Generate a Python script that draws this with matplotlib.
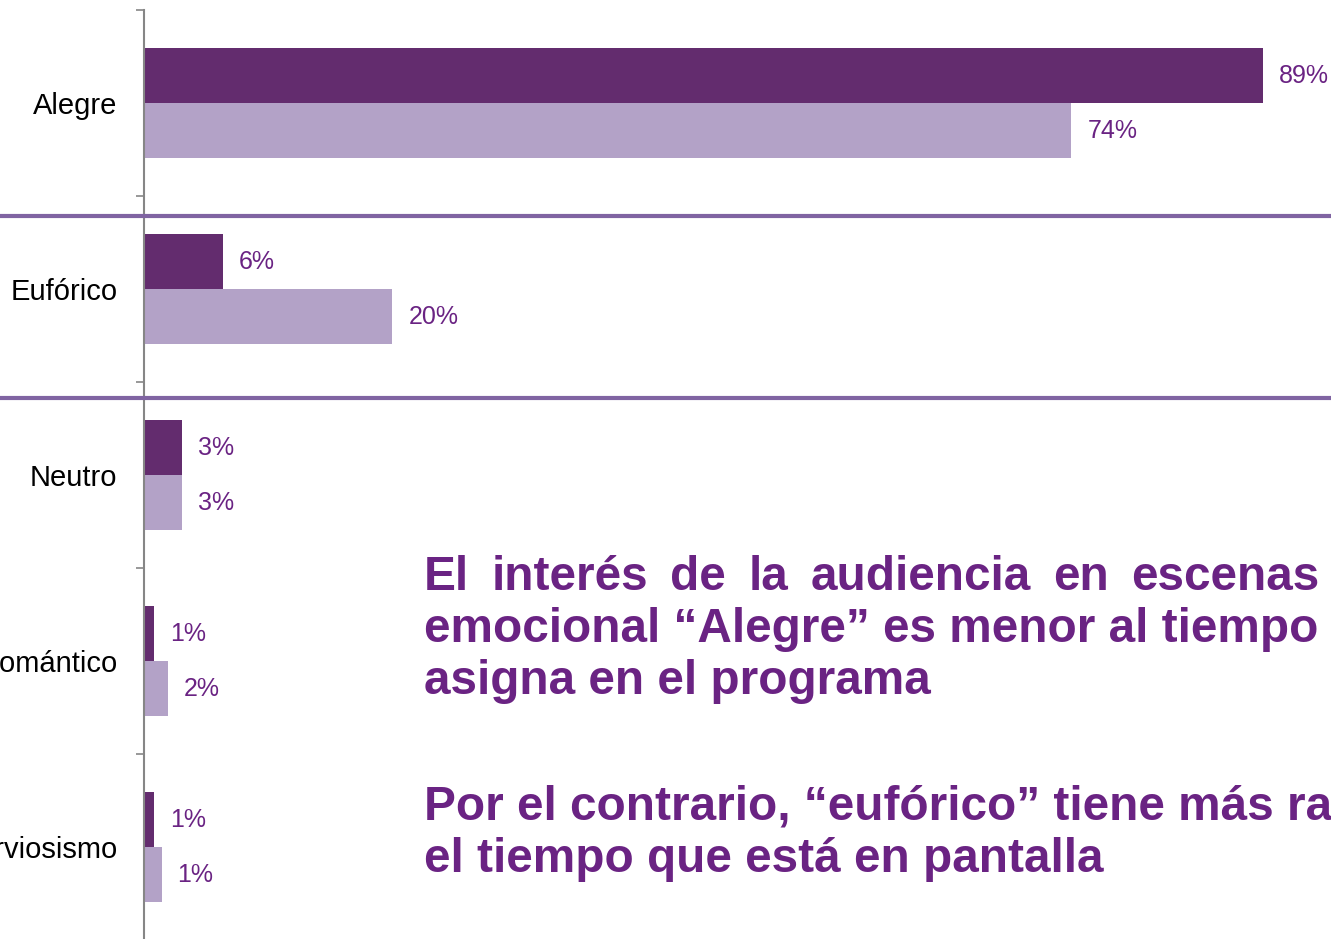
import matplotlib
matplotlib.use("Agg")
import matplotlib.pyplot as plt
from matplotlib.lines import Line2D

# Data
categories = ["Alegre", "Eufórico", "Neutro", "Romántico", "Nerviosismo"]
interes = [89.2, 6.3, 3.0, 0.8, 0.8]      # dark bars (audiencia)
tiempo = [73.9, 19.8, 3.0, 1.9, 1.4]      # light bars (tiempo en pantalla)

dark = "#632C6E"
light = "#B3A2C7"
txt_purple = "#6A2383"
sep_color = "#8064A2"

plt.rcParams["font.family"] = ["Liberation Sans", "DejaVu Sans"]

W, H = 1331, 939
fig = plt.figure(figsize=(W / 100, H / 100), dpi=100)
# axes: x=0 at px 144, top at px 10, bottom at px 940
ax = fig.add_axes([144 / W, -1 / H, (W - 144) / W, 930 / H])

y = list(range(len(categories)))
h = 55 / 186
ax.barh([v - h / 2 for v in y], interes, height=h, color=dark)
ax.barh([v + h / 2 for v in y], tiempo, height=h, color=light)

px = 94.6 / (W - 144)  # data units per pixel
for i in y:
    ax.text(interes[i] + 16 * px, i - h / 2, f"{interes[i]:.0f}%", color=txt_purple,
            fontsize=18, va="center", ha="left")
    ax.text(tiempo[i] + 16 * px, i + h / 2, f"{tiempo[i]:.0f}%", color=txt_purple,
            fontsize=18, va="center", ha="left")

ax.set_xlim(0, 94.6)
ax.set_ylim(len(categories) - 0.5, -0.5)
ax.set_yticks(y)
ax.set_yticklabels(categories, fontsize=21, color="black")
ax.set_yticks([v - 0.5 for v in range(len(categories) + 1)], minor=True)
ax.tick_params(axis="y", which="major", length=0, pad=19)
ax.tick_params(axis="y", which="minor", length=6, color="#868686", width=1.2)
ax.set_xticks([])
for s in ["top", "right", "bottom"]:
    ax.spines[s].set_visible(False)
ax.spines["left"].set_color("#868686")
ax.spines["left"].set_linewidth(1.5)

# separator lines
for yp in [216, 398]:
    fig.add_artist(Line2D([0, 1], [1 - yp / H, 1 - yp / H], transform=fig.transFigure,
                          color=sep_color, lw=3))

# commentary text
fs = 34.4
txt_kw = dict(color=txt_purple, fontsize=fs, fontweight="bold", ha="left", va="baseline")

# first line is justified: spread the words so "escenas" starts near px 1131
first_words = ["El", "interés", "de", "la", "audiencia", "en", "escenas", "de", "tono"]
renderer = fig.canvas.get_renderer()
widths = []
for w in first_words:
    t = fig.text(0, 0, w, **txt_kw)
    widths.append(t.get_window_extent(renderer).width)
    t.remove()
gap = (1131 - 424 - sum(widths[:6])) / 6
x = 424
for w, wd in zip(first_words, widths):
    fig.text(x / W, 1 - 590 / H, w, **txt_kw)
    x += wd + gap

lines = [
    ("emocional “Alegre” es menor al tiempo que se le", 642),
    ("asigna en el programa", 694),
    ("Por el contrario, “eufórico” tiene más rating que", 820),
    ("el tiempo que está en pantalla", 872),
]
for t, yp in lines:
    fig.text(424 / W, 1 - yp / H, t, **txt_kw)

fig.savefig("out.png", dpi=100)
